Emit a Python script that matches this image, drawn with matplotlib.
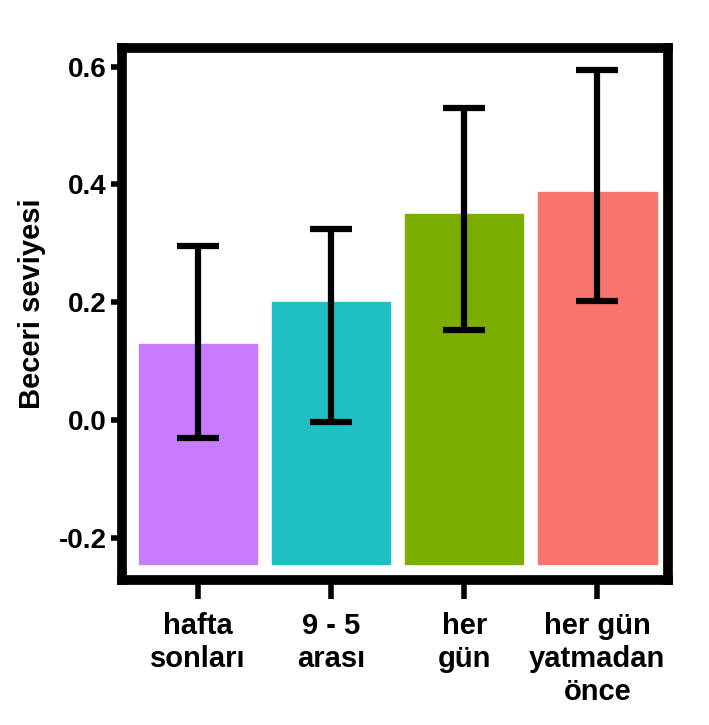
import matplotlib
matplotlib.use("Agg")
import matplotlib.pyplot as plt
import numpy as np

categories = ["hafta\nsonları", "9 - 5\narası", "her\ngün", "her gün\nyatmadan\nönce"]
values = [0.129, 0.200, 0.350, 0.387]
err_low = [-0.031, -0.003, 0.153, 0.202]
err_high = [0.296, 0.325, 0.530, 0.595]
colors = ["#C77CFF", "#1FBFC4", "#7CAE00", "#F8766D"]
bar_base = -0.245
yticks = [-0.2, 0.0, 0.2, 0.4, 0.6]
ylabel = "Beceri seviyesi"

plt.rcParams['font.family'] = ['Liberation Sans', 'DejaVu Sans']
plt.rcParams['font.weight'] = 'bold'

fig = plt.figure(figsize=(7.09, 7.25), dpi=100)
ax = fig.add_axes([0.172, 0.2, 0.77, 0.734])

x = np.arange(len(categories))
heights = [v - bar_base for v in values]
ax.bar(x, heights, bottom=bar_base, width=0.89, color=colors, edgecolor=colors, linewidth=1)
yerr = [np.array(values) - np.array(err_low), np.array(err_high) - np.array(values)]
ax.errorbar(x, values, yerr=yerr, fmt='none', ecolor='black', elinewidth=4.5, capsize=15, capthick=4.5)

ax.set_xlim(-0.57, 3.53)
ax.set_ylim(-0.272, 0.632)
ax.set_yticks(yticks)
ax.set_yticklabels([f"{t:.1f}" for t in yticks], fontsize=20, fontweight='bold')
ax.set_xticks(x)
ax.set_xticklabels(categories, fontsize=21, fontweight='bold', linespacing=1.22)
ax.set_ylabel(ylabel, fontsize=21, fontweight='bold')
ax.yaxis.set_label_coords(-0.139, 0.52)

for s in ax.spines.values():
    s.set_linewidth(7)
ax.tick_params(axis='y', length=8, width=4, pad=3)
ax.tick_params(axis='x', length=14, width=4, pad=9)

fig.savefig("out.png", dpi=100)
